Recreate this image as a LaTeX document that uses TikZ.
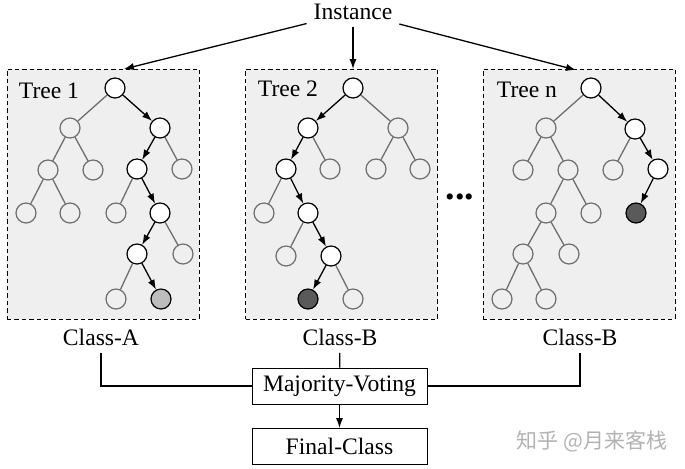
\documentclass[tikz,border=0pt]{standalone}
\usepackage{fontspec}
\setmainfont{Liberation Serif}
\newfontfamily\cjk{Noto Sans CJK SC}
\usepackage{xcolor}
\usetikzlibrary{arrows.meta}
\definecolor{boxgray}{HTML}{EFEFEF}
\definecolor{linegray}{HTML}{6E6E6E}
\definecolor{leaflight}{HTML}{BDBDBD}
\definecolor{leafdark}{HTML}{5A5A5A}

\begin{document}
\begin{tikzpicture}[x=0.5pt,y=-0.5pt,font=\fontsize{11.8}{14}\selectfont,
    treebox/.style={draw,dashed,dash pattern=on 2.2pt off 1.5pt,line width=0.4pt,fill=boxgray,inner sep=0pt,minimum width=96pt,minimum height=125pt},
    pnode/.style={circle,draw,line width=0.6pt,fill=white,inner sep=0pt,minimum size=10pt},
    onode/.style={circle,draw=linegray,line width=0.6pt,fill=boxgray,inner sep=0pt,minimum size=10pt},
    pedge/.style={-{Latex[length=5pt,width=3.6pt]},line width=0.65pt},
    oedge/.style={draw=linegray,line width=0.65pt},
    votebox/.style={draw,line width=0.5pt,inner sep=0pt,minimum width=87.5pt,minimum height=18pt}]
\useasboundingbox (0,0) rectangle (685,468);

% boxes of the trees
\node[treebox] (box1) at (103,194) {};
\node[treebox] (box2) at (341.5,194) {};
\node[treebox] (box3) at (579,194) {};
\node (lab1) at (49,90.5) {Tree 1};
\node (lab2) at (288,89) {Tree 2};
\node (lab3) at (527,89.5) {Tree n};

% instance
\node (inst) at (353,12) {Instance};
\coordinate (in1) at (124,69);
\coordinate (in2) at (353,69);
\coordinate (in3) at (576,70);
\draw[pedge] (inst) -- (in1);
\draw[pedge] (inst) -- (in2);
\draw[pedge] (inst) -- (in3);

% tree 1
\foreach \n/\x/\y in {a0/115/88,a2/160/128,a5/137/169,a10/160/213,a11/137/254}
    \node[pnode] (\n) at (\x,\y) {};
\foreach \n/\x/\y in {a1/70/128,a3/48/170,a4/93/170,a6/182/169,a7/26/213,a8/70/213,a9/116/213,a12/183/254,a13/116/299}
    \node[onode] (\n) at (\x,\y) {};
\node[pnode,fill=leaflight] (a14) at (161,299) {};
\foreach \a/\b in {a0/a1,a1/a3,a1/a4,a3/a7,a3/a8,a2/a6,a5/a9,a10/a12,a11/a13}
    \draw[oedge] (\a) -- (\b);
\foreach \a/\b in {a0/a2,a2/a5,a5/a10,a10/a11,a11/a14}
    \draw[pedge] (\a) -- (\b);

% tree 2
\foreach \n/\x/\y in {b0/353/88,b1/308/128,b3/286/169,b8/308/213,b10/331/256}
    \node[pnode] (\n) at (\x,\y) {};
\foreach \n/\x/\y in {b2/398/128,b4/330/169,b5/376/169,b6/420/169,b7/264/213,b9/286/256,b12/353/299}
    \node[onode] (\n) at (\x,\y) {};
\node[pnode,fill=leafdark] (b11) at (308,299) {};
\foreach \a/\b in {b0/b2,b2/b5,b2/b6,b1/b4,b3/b7,b8/b9,b10/b12}
    \draw[oedge] (\a) -- (\b);
\foreach \a/\b in {b0/b1,b1/b3,b3/b8,b8/b10,b10/b11}
    \draw[pedge] (\a) -- (\b);

% tree n
\foreach \n/\x/\y in {c0/591/88,c2/635/129,c6/658/169}
    \node[pnode] (\n) at (\x,\y) {};
\foreach \n/\x/\y in {c1/546/128,c3/523/170,c4/568/170,c5/613/170,c7/546/213,c8/591/213,c10/523/254,c11/569/254,c12/502/299,c13/546/299}
    \node[onode] (\n) at (\x,\y) {};
\node[pnode,fill=leafdark] (c9) at (636,213) {};
\foreach \a/\b in {c0/c1,c1/c3,c1/c4,c2/c5,c4/c7,c4/c8,c7/c10,c7/c11,c10/c12,c10/c13}
    \draw[oedge] (\a) -- (\b);
\foreach \a/\b in {c0/c2,c2/c6,c6/c9}
    \draw[pedge] (\a) -- (\b);

\node[font=\fontsize{19}{22}\selectfont\bfseries] (dots) at (460,197) {...};

% voting
\node (ca) at (101,337.5) {Class-A};
\node (cb) at (340,337.5) {Class-B};
\node (cc) at (580,337.5) {Class-B};
\node[votebox] (mv) at (339.5,386) {Majority-Voting};
\node[votebox] (fc) at (339.5,446.5) {Final-Class};
\draw[line width=0.65pt] (ca) |- (mv);
\draw[line width=0.65pt] (cc) |- (mv);
\draw[line width=0.65pt] (cb) -- (mv);
\draw[pedge] (mv) -- (fc);

\node[text=black!30,font=\cjk\fontsize{10.5}{12}\selectfont] (mark) at (592,441) {知乎 @月来客栈};
\end{tikzpicture}
\end{document}
